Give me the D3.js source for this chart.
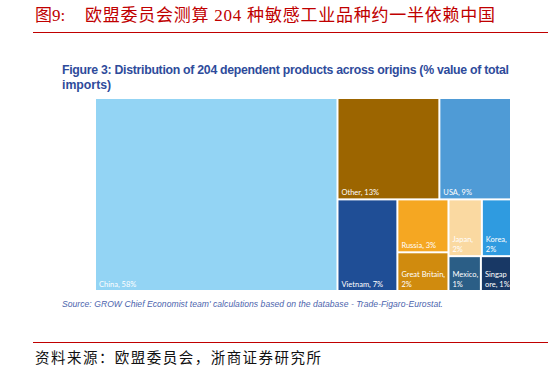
<!DOCTYPE html>
<html>

<head>
<meta charset="utf-8">
<script src="https://d3js.org/d3.v7.min.js"></script>
<style>
  body { margin: 0; background: #fff; }
</style>
</head>

<body>
  <script>
    // origins and their share (%) of the value of imports
    var origins = ["China", "Other", "USA", "Vietnam", "Russia", "Great Britain", "Japan", "Korea", "Mexico", "Singapore"];
    var shares = [58, 12.8, 9, 6.8, 3.35, 2.45, 2.35, 2.05, 1.4, 1.3];
    var colors = ["#93d4f4", "#9c6500", "#4f9bd6", "#1f4e96", "#f5a722", "#d08b0e", "#fad9a1", "#2f9be0", "#2b5e86", "#183865"];

    var width = 548,
      height = 373;

    var box = { left: 96, top: 99, right: 510, bottom: 290 };

    var svg = d3.select("body").append("svg")
      .attr("width", width)
      .attr("height", height)
      .style("background", "#fff");

    // report header
    svg.append("text")
      .attr("x", 35)
      .attr("y", 21)
      .attr("fill", "#c00000")
      .style("font-family", "'Liberation Serif', 'Noto Sans CJK SC', serif")
      .style("font-size", "17px")
      .text("图9:");

    svg.append("text")
      .attr("x", 85)
      .attr("y", 21)
      .attr("fill", "#c00000")
      .attr("textLength", 410)
      .attr("lengthAdjust", "spacing")
      .style("font-family", "'Liberation Serif', 'Noto Sans CJK SC', serif")
      .style("font-size", "17px")
      .text("欧盟委员会测算 204 种敏感工业品种约一半依赖中国");

    svg.append("line")
      .attr("x1", 33).attr("x2", width)
      .attr("y1", 32.5).attr("y2", 32.5)
      .attr("stroke", "#c00000")
      .attr("stroke-width", 1);

    // figure title
    var title = svg.append("text")
      .attr("fill", "#2e4b9b")
      .style("font-family", "'Liberation Sans', Arial, sans-serif")
      .style("font-weight", "bold")
      .style("font-size", "12.3px");
    title.append("tspan").attr("x", 62).attr("y", 74)
      .attr("textLength", 447).attr("lengthAdjust", "spacing")
      .text("Figure 3: Distribution of 204 dependent products across origins (% value of total");
    title.append("tspan").attr("x", 62).attr("y", 89)
      .text("imports)");

    // treemap
    var data = origins.map(function(d, i) {
      return { name: d, value: shares[i], color: colors[i] };
    });

    var root = d3.hierarchy({ children: data })
      .sum(function(d) { return d.value || 0; });

    d3.treemap()
      .tile(d3.treemapSquarify.ratio(1))
      .size([box.right - box.left, box.bottom - box.top])
      .paddingInner(2)
      (root);

    var cell = svg.append("g")
      .attr("transform", "translate(" + box.left + "," + box.top + ")")
      .selectAll("g")
      .data(root.leaves())
      .enter().append("g")
      .attr("transform", function(d) { return "translate(" + d.x0 + "," + d.y0 + ")"; });

    cell.append("rect")
      .attr("width", function(d) { return d.x1 - d.x0; })
      .attr("height", function(d) { return d.y1 - d.y0; })
      .attr("fill", function(d) { return d.data.color; });

    var labels = cell.append("text")
      .attr("fill", "#fff")
      .style("font-family", "Lato, 'Open Sans', sans-serif")
      .style("font-size", "7.5px");

    // label: "name, x%" on one line, else break after the comma,
    // and cut a single long word where it runs out of room
    labels.each(function(d) {
      var t = d3.select(this);
      var w = d.x1 - d.x0;
      var first = d.data.name + ",";
      var pct = Math.round(d.data.value) + "%";
      var probe = t.append("tspan");
      var len = function(s) { probe.text(s); return probe.node().getComputedTextLength(); };
      var lines;
      if (len(first + " " + pct) <= w - 6) {
        lines = [first + " " + pct];
      } else if (first.indexOf(" ") >= 0 || len(first) <= w - 3) {
        lines = [first, pct];
      } else {
        var k = first.length - 1;
        while (k > 1 && len(first.slice(0, k)) > w - 4) k--;
        var rest = first.slice(k);
        lines = [first.slice(0, k)];
        if (len(rest + " " + pct) <= w - 1) lines.push(rest + " " + pct);
        else lines.push(rest, pct);
      }
      probe.remove();
      var h = d.y1 - d.y0;
      lines.forEach(function(s, i) {
        t.append("tspan")
          .attr("x", 3)
          .attr("y", h - 3 - (lines.length - 1 - i) * 10)
          .text(s);
      });
    });

    // source note
    svg.append("text")
      .attr("x", 62)
      .attr("y", 307)
      .attr("fill", "#4c64ad")
      .attr("textLength", 381)
      .attr("lengthAdjust", "spacing")
      .style("font-family", "'Liberation Sans', Arial, sans-serif")
      .style("font-style", "italic")
      .style("font-size", "8.6px")
      .text("Source: GROW Chief Economist team' calculations based on the database - Trade-Figaro-Eurostat.");

    // report footer
    svg.append("line")
      .attr("x1", 33).attr("x2", width)
      .attr("y1", 342.5).attr("y2", 342.5)
      .attr("stroke", "#c00000")
      .attr("stroke-width", 1);

    svg.append("text")
      .attr("x", 35)
      .attr("y", 363)
      .attr("fill", "#111")
      .attr("textLength", 286)
      .attr("lengthAdjust", "spacing")
      .style("font-family", "'Noto Sans CJK SC', sans-serif")
      .style("font-size", "14.5px")
      .text("资料来源：欧盟委员会，浙商证券研究所");
  </script>
</body>

</html>
